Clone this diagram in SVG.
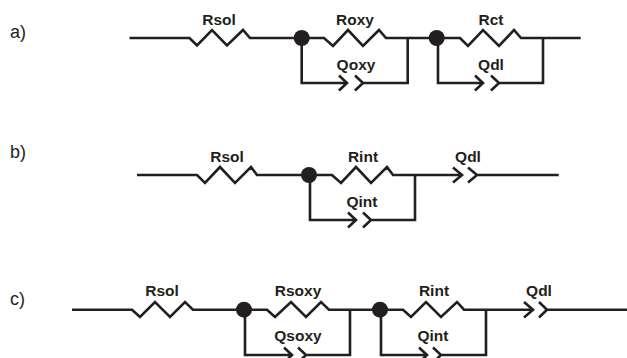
<svg xmlns="http://www.w3.org/2000/svg" width="627" height="358" viewBox="0 0 627 358">
<style>
.w{fill:none;stroke:#231f20;stroke-width:2.6;stroke-linejoin:miter;stroke-linecap:butt}
.d{fill:#231f20}
text{fill:#231f20;font-family:"Liberation Sans",Arial,sans-serif}
.l{font-size:15.5px;font-weight:bold;text-anchor:middle}
.s{font-size:18px}
</style>
<rect width="627" height="358" fill="#fff"/>
<g id="connectors">
<path class="w" d="M129.5 38H189.500L197 45.500L212 30L227 45.500L243 30L250 38H324L333 46L348 30L363 46L379 30L386 38H460L468 46L483 30L499 46L514 30L521 38H580.700"/>
<path class="w" d="M301.700 38V83H347M339 75.500L347 83L339 90.500M355 75.500L363 83L355 90.500M363 83H407.700V38"/>
<path class="w" d="M438 38V83H483M475 75.500L483 83L475 90.500M491 75.500L499 83L491 90.500M499 83H543V38"/>
<path class="w" d="M137 175H197L205 183L220 167L235 183L251 167L257 175H332L341 183L356 167L371 183L387 167L393 175H462M453 167.500L462 175L453 182.500M468 167.500L477 175L468 182.500M477 175H558.700"/>
<path class="w" d="M310 175V220H356M348 212.500L356 220L348 227.500M363 212.500L371 220L363 227.500M371 220H415V175"/>
<path class="w" d="M72 309.700H132L140 317L155 302L170 317L185 302L193 309.700H267L275 317L291 302L306 317L321 302L329 309.700H403L411 317L426 302L441 317L457 302L464 309.700H533M524 302L533 309.700L524 317.500M539 302L547 309.700L539 317.500M547 309.700H627"/>
<path class="w" d="M245 309.700V355H292M284 347.500L292 355L284 362.500M298 347.500L306 355L298 362.500M306 355H350V309.700"/>
<path class="w" d="M381 309.700V355H427M419 347.500L427 355L419 362.500M433 347.500L441 355L433 362.500M441 355H486V309.700"/>
</g>
<g id="node-a1"><circle class="d" cx="301.700" cy="38" r="8"/></g>
<g id="node-a2"><circle class="d" cx="436.700" cy="38" r="8"/></g>
<g id="node-b1"><circle class="d" cx="309" cy="175" r="8"/></g>
<g id="node-c1"><circle class="d" cx="244" cy="309.700" r="8"/></g>
<g id="node-c2"><circle class="d" cx="380" cy="309.700" r="8"/></g>
<g id="labels">
<text class="s" x="10" y="38">a)</text>
<text class="s" x="10" y="158">b)</text>
<text class="s" x="10" y="305">c)</text>
<text class="l" x="219" y="25">Rsol</text>
<text class="l" x="355" y="25">Roxy</text>
<text class="l" x="356" y="70">Qoxy</text>
<text class="l" x="491" y="25">Rct</text>
<text class="l" x="491" y="70">Qdl</text>
<text class="l" x="227" y="162">Rsol</text>
<text class="l" x="363" y="162">Rint</text>
<text class="l" x="362" y="207">Qint</text>
<text class="l" x="468" y="162">Qdl</text>
<text class="l" x="162" y="296">Rsol</text>
<text class="l" x="298" y="296">Rsoxy</text>
<text class="l" x="298" y="341">Qsoxy</text>
<text class="l" x="434" y="296">Rint</text>
<text class="l" x="433" y="341">Qint</text>
<text class="l" x="539" y="296">Qdl</text>
</g>
</svg>
